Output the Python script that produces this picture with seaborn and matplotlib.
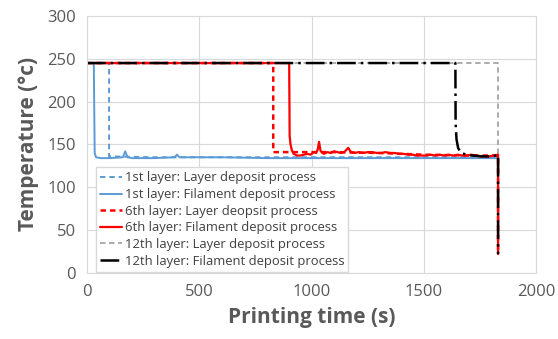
import matplotlib
matplotlib.use("Agg")
import matplotlib.pyplot as plt
import seaborn as sns
import pandas as pd

# Temperature logs (time in s, temperature in °C)
t_l1_layer = [0, 98, 98, 300, 800, 1300, 1830, 1830]
v_l1_layer = [245, 245, 136, 135, 135, 135, 135, 22]

t_l1_fil = [0, 30, 34, 40, 60, 100, 160, 170, 180, 200, 300, 390, 400, 412, 450, 500, 600, 800,
            1000, 1200, 1400, 1600, 1830, 1830]
v_l1_fil = [245, 245, 140, 135, 134, 134, 135, 142, 135, 134, 134, 135, 138, 135, 135, 135, 135, 134,
            134, 134, 134, 134, 134, 22]

t_l6_layer = [0, 829, 829, 900, 1100, 1300, 1500, 1700, 1830, 1830]
v_l6_layer = [245, 245, 141, 141, 141, 140, 138, 137, 137, 22]

t_l6_fil = [0, 900, 902, 906, 912, 920, 935, 950, 965, 980, 995, 1005, 1015, 1020, 1027, 1033, 1040,
            1055, 1070, 1085, 1100, 1115, 1130, 1145, 1163, 1175, 1190, 1210, 1230, 1250, 1270,
            1290, 1310, 1330, 1350, 1370, 1390, 1410, 1430, 1450, 1470, 1490, 1510, 1530, 1550,
            1570, 1590, 1610, 1630, 1650, 1670, 1690, 1710, 1730, 1750, 1770, 1790, 1810, 1830, 1830]
v_l6_fil = [245, 245, 160, 150, 143, 139, 137, 137, 138, 139, 138, 140, 141, 140, 144, 153, 142,
            139, 141, 140, 142, 141, 140, 141, 146, 141, 140, 141, 140, 141, 141,
            140, 140, 141, 140, 140, 139, 139, 138, 138, 137, 137, 137, 138, 137,
            138, 137, 138, 137, 138, 137, 137, 138, 137, 136, 136, 136, 137, 138, 22]

t_l12_layer = [0, 1831, 1831]
v_l12_layer = [245, 245, 22]

t_l12_fil = [0, 1640, 1641, 1645, 1652, 1665, 1690, 1720, 1760, 1800, 1820, 1830, 1830]
v_l12_fil = [245, 245, 175, 156, 146, 140, 138, 137, 136, 136, 137, 138, 22]

labels = [
    "1st layer: Layer deposit process",
    "1st layer: Filament deposit process",
    "6th layer: Layer deopsit process",
    "6th layer: Filament deposit process",
    "12th layer: Layer deposit process",
    "12th layer: Filament deposit process",
]

x_ticks = [0, 500, 1000, 1500, 2000]
y_ticks = [0, 50, 100, 150, 200, 250, 300]

series = {
    labels[0]: (t_l1_layer, v_l1_layer),
    labels[1]: (t_l1_fil, v_l1_fil),
    labels[2]: (t_l6_layer, v_l6_layer),
    labels[3]: (t_l6_fil, v_l6_fil),
    labels[4]: (t_l12_layer, v_l12_layer),
    labels[5]: (t_l12_fil, v_l12_fil),
}

styles = {
    labels[0]: dict(color="#5B9BD5", lw=1.4, dashes=(2.8, 2.0)),
    labels[1]: dict(color="#5B9BD5", lw=1.4, dashes=None),
    labels[2]: dict(color="#FF0000", lw=1.8, dashes=(2.2, 1.6)),
    labels[3]: dict(color="#FF0000", lw=1.6, dashes=None),
    labels[4]: dict(color="#A5A5A5", lw=1.3, dashes=(3.0, 2.0)),
    labels[5]: dict(color="#000000", lw=1.8, dashes=(7.5, 2.0, 1.0, 2.0)),
}
draw_order = [labels[4], labels[0], labels[1], labels[2], labels[3], labels[5]]

sns.set_theme(style="white")
plt.rcParams["font.family"] = ["Open Sans", "DejaVu Sans"]

fig = plt.figure(figsize=(5.58, 3.39), dpi=100)
ax = fig.add_axes([0.156, 0.195, 0.805, 0.758])

handles = {}
for name in draw_order:
    t, v = series[name]
    df = pd.DataFrame({"t": t, "v": v})
    st = styles[name]
    sns.lineplot(data=df, x="t", y="v", ax=ax, sort=False, estimator=None,
                 color=st["color"], lw=st["lw"])
    line = ax.lines[-1]
    if st["dashes"] is not None:
        line.set_dashes(st["dashes"])
    handles[name] = line

ax.set_xlim(0, 2000)
ax.set_ylim(0, 300)
ax.set_xticks(x_ticks)
ax.set_yticks(y_ticks)
ax.grid(True, color="#D9D9D9", lw=0.8)
for s in ax.spines.values():
    s.set_color("#D9D9D9")
    s.set_linewidth(0.8)
ax.tick_params(axis="both", labelsize=12, colors="#595959", length=0, pad=8)

ax.set_xlabel("Printing time (s)", fontsize=15, fontweight="bold", color="#595959", labelpad=5)
ax.set_ylabel("Temperature (°c)", fontsize=15, fontweight="bold", color="#595959", labelpad=6)

leg = ax.legend([handles[n] for n in labels], labels, loc="lower left",
                bbox_to_anchor=(0.02, 0.005), fontsize=9.4, frameon=True, fancybox=False,
                edgecolor="#D9D9D9", framealpha=1, handlelength=1.7, handletextpad=0.2,
                labelspacing=0.28, borderpad=0.3, borderaxespad=0)
for txt in leg.get_texts():
    txt.set_color("#404040")

fig.savefig("out.png", dpi=100)
